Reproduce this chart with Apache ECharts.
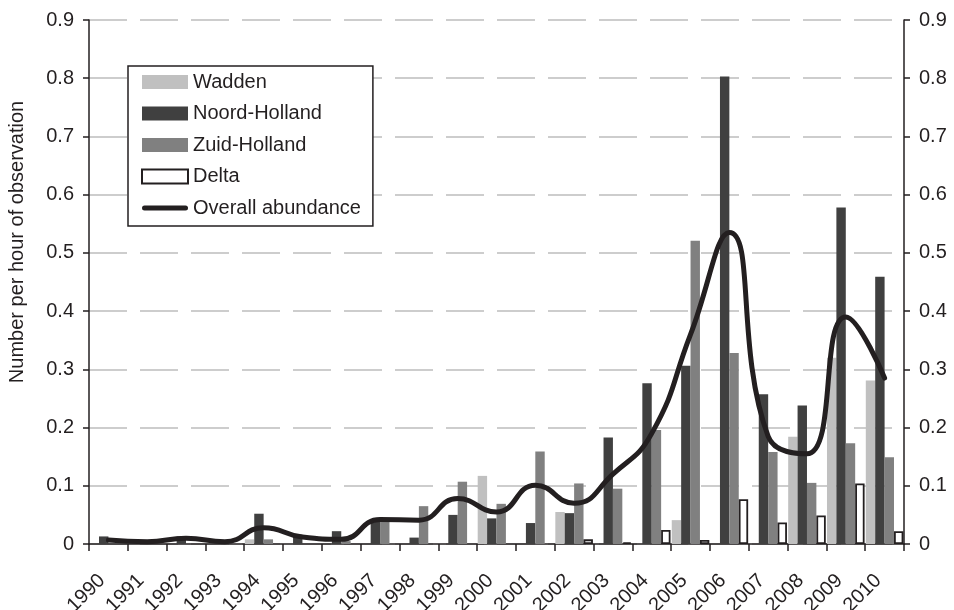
<!DOCTYPE html>
<html>
<head>
<meta charset="utf-8">
<script src="https://cdn.jsdelivr.net/npm/echarts@6/dist/echarts.min.js"></script>
<style>
  html, body { margin: 0; padding: 0; background: #fff; }
  #chart { width: 954px; height: 610px; }
</style>
</head>
<body>
<div id="chart"></div>
<script>
// values (number per hour of observation)
var years = ['1990', '1991', '1992', '1993', '1994', '1995', '1996', '1997', '1998', '1999', '2000',
  '2001', '2002', '2003', '2004', '2005', '2006', '2007', '2008', '2009', '2010'];
var wadden = [0, 0, 0, 0, 0.008, 0, 0, 0, 0, 0, 0.117,
  0, 0.055, 0, 0, 0.041, 0, 0, 0.184, 0.32, 0.281];
var noordHolland = [0.013, 0, 0.013, 0, 0.052, 0.016, 0.022, 0.038, 0.011, 0.05, 0.044,
  0.036, 0.053, 0.183, 0.276, 0.306, 0.803, 0.257, 0.238, 0.578, 0.459];
var zuidHolland = [0, 0, 0, 0, 0.008, 0, 0.005, 0.04, 0.065, 0.107, 0.069,
  0.159, 0.104, 0.095, 0.196, 0.521, 0.328, 0.158, 0.105, 0.173, 0.149];
var delta = [null, null, null, null, null, null, null, null, null, null, null,
  null, 0.008, 0.003, 0.024, 0.007, 0.077, 0.037, 0.049, 0.104, 0.022];
var overall = [0.007, 0.004, 0.01, 0.004, 0.028, 0.012, 0.008, 0.042, 0.041, 0.078, 0.055,
  0.101, 0.07, 0.12, 0.19, 0.36, 0.535, 0.185, 0.155, 0.39, 0.285];
var yTicks = ['0', '0.1', '0.2', '0.3', '0.4', '0.5', '0.6', '0.7', '0.8', '0.9'];

var font = '"Liberation Sans", Arial, sans-serif';
var ink = '#231f20';

var chart = echarts.init(document.getElementById('chart'));

function valueAxis(pos) {
  return {
    type: 'value',
    position: pos,
    min: 0,
    max: 0.9,
    interval: 0.1,
    axisLine: { show: true, lineStyle: { color: ink, width: 1.5 } },
    axisTick: { show: true, length: 6, lineStyle: { color: ink, width: 1.5 } },
    axisLabel: {
      margin: 15,
      color: ink,
      fontFamily: font,
      fontSize: 20,
      formatter: function (v) { return yTicks[Math.round(v * 10)]; }
    },
    splitLine: pos === 'left' ? {
      show: true,
      lineStyle: { color: '#bdbdbd', width: 1.5, type: [38, 13] }
    } : { show: false }
  };
}

function barSeries(name, data, style) {
  return {
    name: name,
    type: 'bar',
    barWidth: 9.4,
    barGap: '0%',
    data: data,
    itemStyle: style
  };
}

chart.setOption({
  animation: false,
  backgroundColor: '#fff',
  grid: { left: 89, right: 50, top: 20, bottom: 66, outerBoundsMode: 'none' },
  legend: {
    orient: 'vertical',
    left: 128,
    top: 66,
    padding: [6, 12, 8, 13],
    itemWidth: 46,
    itemHeight: 14,
    itemGap: 11.5,
    borderColor: ink,
    borderWidth: 1.5,
    borderRadius: 0,
    backgroundColor: '#fff',
    textStyle: { fontFamily: font, fontSize: 20, color: ink, lineHeight: 20 },
    data: [
      { name: 'Wadden', icon: 'rect' },
      { name: 'Noord-Holland', icon: 'rect' },
      { name: 'Zuid-Holland', icon: 'rect' },
      { name: 'Delta', icon: 'rect' },
      { name: 'Overall abundance', icon: 'path://M2.5,0 L43.5,0 A2.5,2.5 0 0 1 43.5,5 L2.5,5 A2.5,2.5 0 0 1 2.5,0 Z' }
    ]
  },
  xAxis: {
    type: 'category',
    data: years,
    axisLine: { lineStyle: { color: ink, width: 1.5 } },
    axisTick: { show: true, length: 7, lineStyle: { color: ink, width: 1.5 } },
    axisLabel: {
      rotate: 45,
      margin: 27,
      padding: [0, 9, 0, 0],
      interval: 0,
      color: ink,
      fontFamily: font,
      fontSize: 20
    }
  },
  yAxis: [
    Object.assign(valueAxis('left'), {
      name: 'Number per hour of observation',
      nameLocation: 'middle',
      nameGap: 62,
      nameTextStyle: { fontFamily: font, fontSize: 20, color: ink, padding: [0, 0, 0, 80] }
    }),
    valueAxis('right')
  ],
  series: [
    barSeries('Wadden', wadden, { color: '#c0c0c0' }),
    barSeries('Noord-Holland', noordHolland, { color: '#404040' }),
    barSeries('Zuid-Holland', zuidHolland, { color: '#808080' }),
    barSeries('Delta', delta, { color: '#ffffff', borderColor: ink, borderWidth: 1.8 }),
    {
      name: 'Overall abundance',
      type: 'line',
      data: overall,
      smooth: 0.5,
      symbol: 'none',
      z: 5,
      lineStyle: { color: ink, width: 5, cap: 'round' },
      itemStyle: { color: ink }
    }
  ]
});
</script>
</body>
</html>
